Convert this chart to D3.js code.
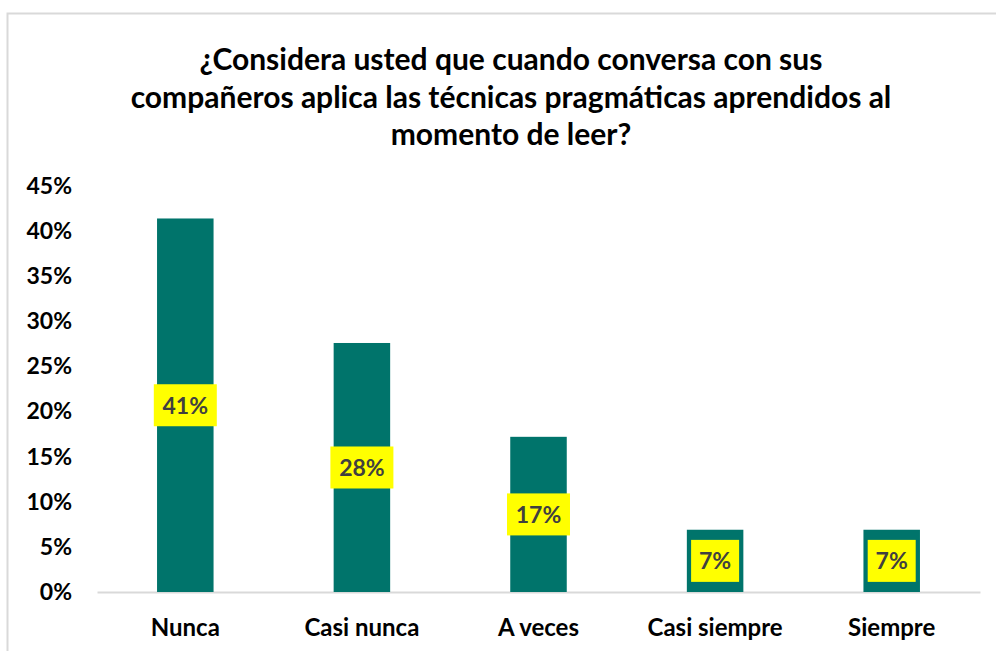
<!DOCTYPE html>
<html>
<head>
<meta charset="utf-8">
<script src="https://cdn.jsdelivr.net/npm/d3@7"></script>
<style>
  body { margin: 0; background: #fff; }
  text { font-family: Lato, "Open Sans", sans-serif; font-weight: bold; }
</style>
</head>
<body>
<svg id="chart" width="996" height="651"></svg>
<script>
const categories = ['Nunca', 'Casi nunca', 'A veces', 'Casi siempre', 'Siempre'];
const values = [0.414, 0.276, 0.172, 0.069, 0.069];
const valueLabels = ['41%', '28%', '17%', '7%', '7%'];
const yTicks = [0, 0.05, 0.10, 0.15, 0.20, 0.25, 0.30, 0.35, 0.40, 0.45];
const titleLines = [
  '¿Considera usted que cuando conversa con sus',
  'compañeros aplica las técnicas pragmáticas aprendidos al',
  'momento de leer?'
];

const svg = d3.select('#chart');
const W = 996, H = 651;
const margin = { top: 186, right: 16, bottom: 59, left: 97 };
const chartWidth = W - margin.left - margin.right;
const chartHeight = H - margin.top - margin.bottom;

// chart area border (runs off the right and bottom edges)
svg.append('rect')
  .attr('x', 7.5).attr('y', 13.5)
  .attr('width', 1000).attr('height', 700)
  .attr('fill', 'none')
  .attr('stroke', '#d9d9d9')
  .attr('stroke-width', 2);

// title
svg.append('text')
  .attr('x', 511)
  .attr('y', 70)
  .attr('text-anchor', 'middle')
  .attr('font-size', 30)
  .attr('fill', '#000')
  .selectAll('tspan')
  .data(titleLines)
  .join('tspan')
  .attr('x', 511)
  .attr('dy', (d, i) => i === 0 ? 0 : 37.5)
  .text(d => d);

const g = svg.append('g')
  .attr('transform', `translate(${margin.left},${margin.top})`);

const x = d3.scaleBand()
  .domain(categories)
  .range([0, chartWidth])
  .paddingInner(0.68)
  .paddingOuter(0.34);

const y = d3.scaleLinear()
  .domain([0, 0.45])
  .range([chartHeight, 0]);

// y axis
const yAxis = d3.axisLeft(y)
  .tickValues(yTicks)
  .tickFormat(d3.format('.0%'))
  .tickSize(0)
  .tickPadding(25);

g.append('g')
  .attr('class', 'y-axis')
  .call(yAxis)
  .call(s => s.select('.domain').remove())
  .selectAll('text')
  .attr('font-size', 23)
  .attr('fill', '#000')
  .style('font-family', 'Lato, sans-serif')
  .style('font-weight', 'bold');

// x axis
const xAxis = d3.axisBottom(x).tickSize(0).tickPadding(27);
g.append('g')
  .attr('class', 'x-axis')
  .attr('transform', `translate(0,${chartHeight})`)
  .call(xAxis)
  .call(s => s.select('.domain').attr('stroke', '#d9d9d9').attr('stroke-width', 2))
  .selectAll('text')
  .attr('font-size', 24)
  .attr('fill', '#000')
  .style('font-family', 'Lato, sans-serif')
  .style('font-weight', 'bold');

// bars
g.selectAll('.bar')
  .data(values)
  .join('rect')
  .attr('class', 'bar')
  .attr('x', (d, i) => x(categories[i]))
  .attr('y', d => y(d))
  .attr('width', x.bandwidth())
  .attr('height', d => chartHeight - y(d))
  .attr('fill', '#00746b');

// data labels in yellow boxes
const lbl = g.selectAll('.lbl')
  .data(values)
  .join('g')
  .attr('class', 'lbl')
  .attr('transform', (d, i) => `translate(${x(categories[i]) + x.bandwidth() / 2},${(y(d) + chartHeight) / 2})`);

lbl.append('rect')
  .attr('x', (d, i) => valueLabels[i].length > 2 ? -31.5 : -24)
  .attr('y', -21)
  .attr('width', (d, i) => valueLabels[i].length > 2 ? 63 : 48)
  .attr('height', 42)
  .attr('fill', '#ffff00');

lbl.append('text')
  .attr('text-anchor', 'middle')
  .attr('dy', '0.36em')
  .attr('font-size', 23)
  .attr('fill', '#404040')
  .text((d, i) => valueLabels[i]);
</script>
</body>
</html>
